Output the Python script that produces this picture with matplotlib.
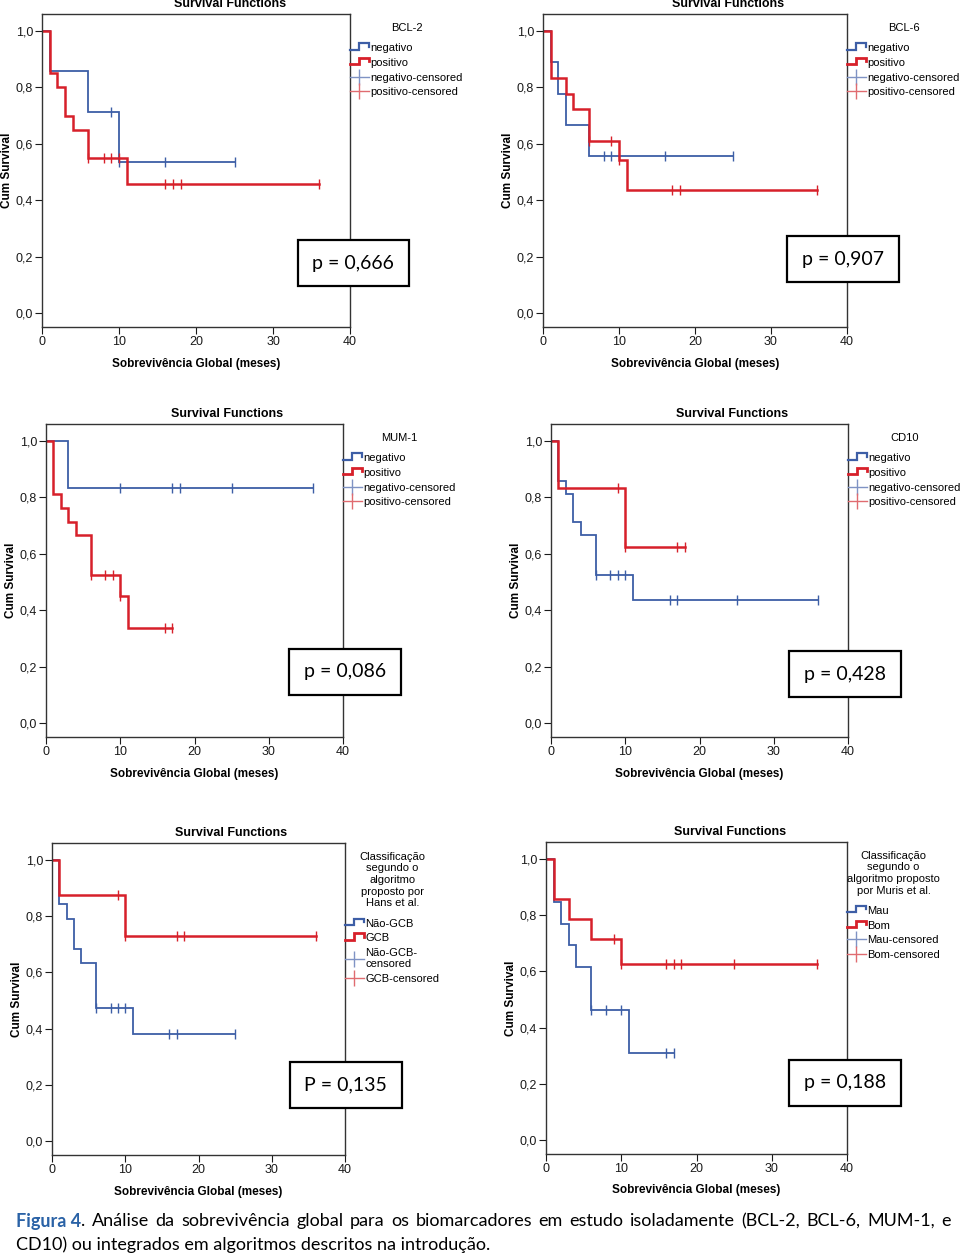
import numpy as np
import matplotlib
matplotlib.use("Agg")
import matplotlib.pyplot as plt
from matplotlib.lines import Line2D
from matplotlib.legend_handler import HandlerBase

plt.rcParams['font.family'] = ['Liberation Sans', 'DejaVu Sans']

BLUE = '#3d5ea6'
RED = '#d7202a'

# Kaplan-Meier step data: event times (last = end of follow-up), survival, censored times
# BCL-2
bcl2_neg_t = [0, 1, 6, 10, 25]
bcl2_neg_s = [1.0, 0.857, 0.714, 0.536, 0.536]
bcl2_neg_c = [9, 10, 16, 25]
bcl2_pos_t = [0, 1, 2, 3, 4, 6, 11, 36]
bcl2_pos_s = [1.0, 0.85, 0.80, 0.70, 0.65, 0.55, 0.458, 0.458]
bcl2_pos_c = [6, 8, 9, 10, 16, 17, 18, 36]
# BCL-6
bcl6_neg_t = [0, 1, 2, 3, 6, 25]
bcl6_neg_s = [1.0, 0.889, 0.778, 0.667, 0.556, 0.556]
bcl6_neg_c = [8, 9, 16, 25]
bcl6_pos_t = [0, 1, 3, 4, 6, 10, 11, 36]
bcl6_pos_s = [1.0, 0.833, 0.778, 0.722, 0.611, 0.543, 0.435, 0.435]
bcl6_pos_c = [6, 9, 10, 17, 18, 36]
# MUM-1
mum1_neg_t = [0, 3, 36]
mum1_neg_s = [1.0, 0.833, 0.833]
mum1_neg_c = [10, 17, 18, 25, 36]
mum1_pos_t = [0, 1, 2, 3, 4, 6, 10, 11, 17]
mum1_pos_s = [1.0, 0.810, 0.762, 0.714, 0.667, 0.524, 0.449, 0.337, 0.337]
mum1_pos_c = [6, 8, 9, 10, 16, 17]
# CD10
cd10_neg_t = [0, 1, 2, 3, 4, 6, 11, 36]
cd10_neg_s = [1.0, 0.857, 0.810, 0.714, 0.667, 0.524, 0.437, 0.437]
cd10_neg_c = [6, 8, 9, 10, 16, 17, 25, 36]
cd10_pos_t = [0, 1, 10, 18]
cd10_pos_s = [1.0, 0.833, 0.625, 0.625]
cd10_pos_c = [9, 10, 17, 18]
# Hans
hans_ngcb_t = [0, 1, 2, 3, 4, 6, 11, 25]
hans_ngcb_s = [1.0, 0.842, 0.789, 0.684, 0.632, 0.474, 0.379, 0.379]
hans_ngcb_c = [6, 8, 9, 10, 16, 17, 25]
hans_gcb_t = [0, 1, 10, 36]
hans_gcb_s = [1.0, 0.875, 0.729, 0.729]
hans_gcb_c = [9, 10, 17, 18, 36]
# Muris
muris_mau_t = [0, 1, 2, 3, 4, 6, 11, 17]
muris_mau_s = [1.0, 0.846, 0.769, 0.692, 0.615, 0.462, 0.308, 0.308]
muris_mau_c = [6, 8, 10, 16, 17]
muris_bom_t = [0, 1, 3, 6, 10, 36]
muris_bom_s = [1.0, 0.857, 0.786, 0.714, 0.625, 0.625]
muris_bom_c = [9, 10, 16, 17, 18, 25, 36]

x_ticks = [0, 10, 20, 30, 40]
y_ticks = [0.0, 0.2, 0.4, 0.6, 0.8, 1.0]
y_ticklabels = ['0,0', '0,2', '0,4', '0,6', '0,8', '1,0']


class StepHandler(HandlerBase):
    def create_artists(self, legend, orig_handle, xdescent, ydescent,
                       width, height, fontsize, trans):
        x = np.array([0, 0.45, 0.45, 1.0, 1.0]) * width - xdescent
        y = np.array([0.2, 0.2, 1.0, 1.0, 0.6]) * height - ydescent
        ln = Line2D(x, y, color=orig_handle.get_color(),
                    lw=orig_handle.get_linewidth(), transform=trans,
                    solid_joinstyle='miter')
        return [ln]


def surv_at(t, s, c):
    idx = np.searchsorted(t, c, side='right') - 1
    return np.array(s)[idx]


def km_panel(box, g1, g2, labels, leg_title, ptext):
    # box in pixels: left, top, right, bottom
    l, t, r, b = box
    ax = fig.add_axes([l / W, 1 - b / H, (r - l) / W, (b - t) / H])
    for (tt, ss, cc), col, lw in zip([g1, g2], [BLUE, RED], [1.3, 1.8]):
        ax.step(tt, ss, where='post', color=col, lw=lw, solid_joinstyle='miter')
        ax.plot(cc, surv_at(tt, ss, cc), ls='none', marker='|', ms=7,
                mew=1.0, color=col)
    h1 = Line2D([], [], color=BLUE, lw=1.6)
    h2 = Line2D([], [], color=RED, lw=2.0)
    h3 = Line2D([], [], color='#7f93c4', lw=1, marker='|', ms=11, mew=1)
    h4 = Line2D([], [], color='#e06b70', lw=1, marker='|', ms=11, mew=1)
    ax.set_xlim(0, 40)
    ax.set_ylim(-0.05, 1.06)
    ax.set_xticks(x_ticks)
    ax.set_yticks(y_ticks)
    ax.set_yticklabels(y_ticklabels)
    ax.tick_params(direction='out', length=5, width=0.8, labelsize=9,
                   pad=1.5, colors='#1a1a1a')
    for sp in ax.spines.values():
        sp.set_linewidth(1.0)
        sp.set_color('#333333')
    ax.set_xlabel('Sobrevivência Global (meses)', fontsize=8.5,
                  fontweight='bold')
    ax.xaxis.set_label_coords(0.5, -36.5 / (b - t))
    ax.set_ylabel('Cum Survival', fontsize=8.5, fontweight='bold')
    ax.yaxis.set_label_coords(-35 / (r - l), 0.5)
    ax.xaxis.label.set_va('center')
    ax.yaxis.label.set_va('center')
    ax.text(0.61, 1.012, 'Survival Functions', transform=ax.transAxes,
            ha='center', va='bottom', fontsize=9, fontweight='bold')
    leg = ax.legend([h1, h2, h3, h4], labels, title=leg_title,
                    loc='upper left', bbox_to_anchor=(1.0, 0.972),
                    frameon=False, fontsize=8, title_fontsize=8,
                    handlelength=1.7, handletextpad=0.15, labelspacing=0.42,
                    borderpad=0, borderaxespad=0, numpoints=1,
                    handler_map={h1: StepHandler(), h2: StepHandler()})
    leg._legend_box.sep = 7.5
    leg.get_title().set_multialignment('center')
    ax.text(ptext[1], ptext[2], ptext[0], transform=ax.transAxes,
            ha='center', va='center', fontsize=14, family='Lato',
            zorder=10, clip_on=False,
            bbox=dict(boxstyle='square,pad=0.75', fc='white', ec='black', lw=1.6))
    return ax


W, H = 960, 1257
fig = plt.figure(figsize=(9.6, 12.57), dpi=100)

lab_np = ['negativo', 'positivo', 'negativo-censored', 'positivo-censored']

km_panel((42, 14, 350, 327),
         (bcl2_neg_t, bcl2_neg_s, bcl2_neg_c), (bcl2_pos_t, bcl2_pos_s, bcl2_pos_c),
         lab_np, 'BCL-2', ('p = 0,666', 1.01, 0.204))
km_panel((543, 14, 847, 327),
         (bcl6_neg_t, bcl6_neg_s, bcl6_neg_c), (bcl6_pos_t, bcl6_pos_s, bcl6_pos_c),
         lab_np, 'BCL-6', ('p = 0,907', 0.987, 0.217))
km_panel((46, 424, 343, 737),
         (mum1_neg_t, mum1_neg_s, mum1_neg_c), (mum1_pos_t, mum1_pos_s, mum1_pos_c),
         lab_np, 'MUM-1', ('p = 0,086', 1.007, 0.208))
km_panel((551, 424, 848, 737),
         (cd10_neg_t, cd10_neg_s, cd10_neg_c), (cd10_pos_t, cd10_pos_s, cd10_pos_c),
         lab_np, 'CD10', ('p = 0,428', 0.99, 0.201))
km_panel((52, 843, 345, 1155),
         (hans_ngcb_t, hans_ngcb_s, hans_ngcb_c), (hans_gcb_t, hans_gcb_s, hans_gcb_c),
         ['Não-GCB', 'GCB', 'Não-GCB-\ncensored', 'GCB-censored'],
         'Classificação\nsegundo o\nalgoritmo\nproposto por\nHans et al.',
         ('P = 0,135', 1.003, 0.224))
km_panel((546, 842, 847, 1154),
         (muris_mau_t, muris_mau_s, muris_mau_c), (muris_bom_t, muris_bom_s, muris_bom_c),
         ['Mau', 'Bom', 'Mau-censored', 'Bom-censored'],
         'Classificação\nsegundo o\nalgoritmo proposto\npor Muris et al.',
         ('p = 0,188', 0.993, 0.228))

# caption, first line justified
cap_font = dict(family='Lato', fontsize=13)
line1 = ('Análise da sobrevivência global para os biomarcadores em estudo '
         'isoladamente (BCL-2, BCL-6, MUM-1, e').split()
line2 = 'CD10) ou integrados em algoritmos descritos na introdução.'
renderer = fig.canvas.get_renderer()
y1 = 1 - 1221 / H
x_left, x_right = 16 / W, 951 / W
t_fig = fig.text(x_left, y1, 'Figura 4', color='#2a62a6', fontweight='bold',
                 va='center', **cap_font)
t_dot = fig.text(0, y1, '.', va='center', **cap_font)
words = [fig.text(0, y1, w, va='center', **cap_font) for w in line1]
wid = lambda t: t.get_window_extent(renderer).width / W
x = x_left + wid(t_fig)
t_dot.set_x(x)
x += wid(t_dot)
total = sum(wid(t) for t in words)
gap = (x_right - x - total) / len(words)
for t in words:
    x += gap
    t.set_x(x)
    x += wid(t)
fig.text(x_left, 1 - 1245 / H, line2, va='center', **cap_font)

fig.savefig('out.png', dpi=100)
